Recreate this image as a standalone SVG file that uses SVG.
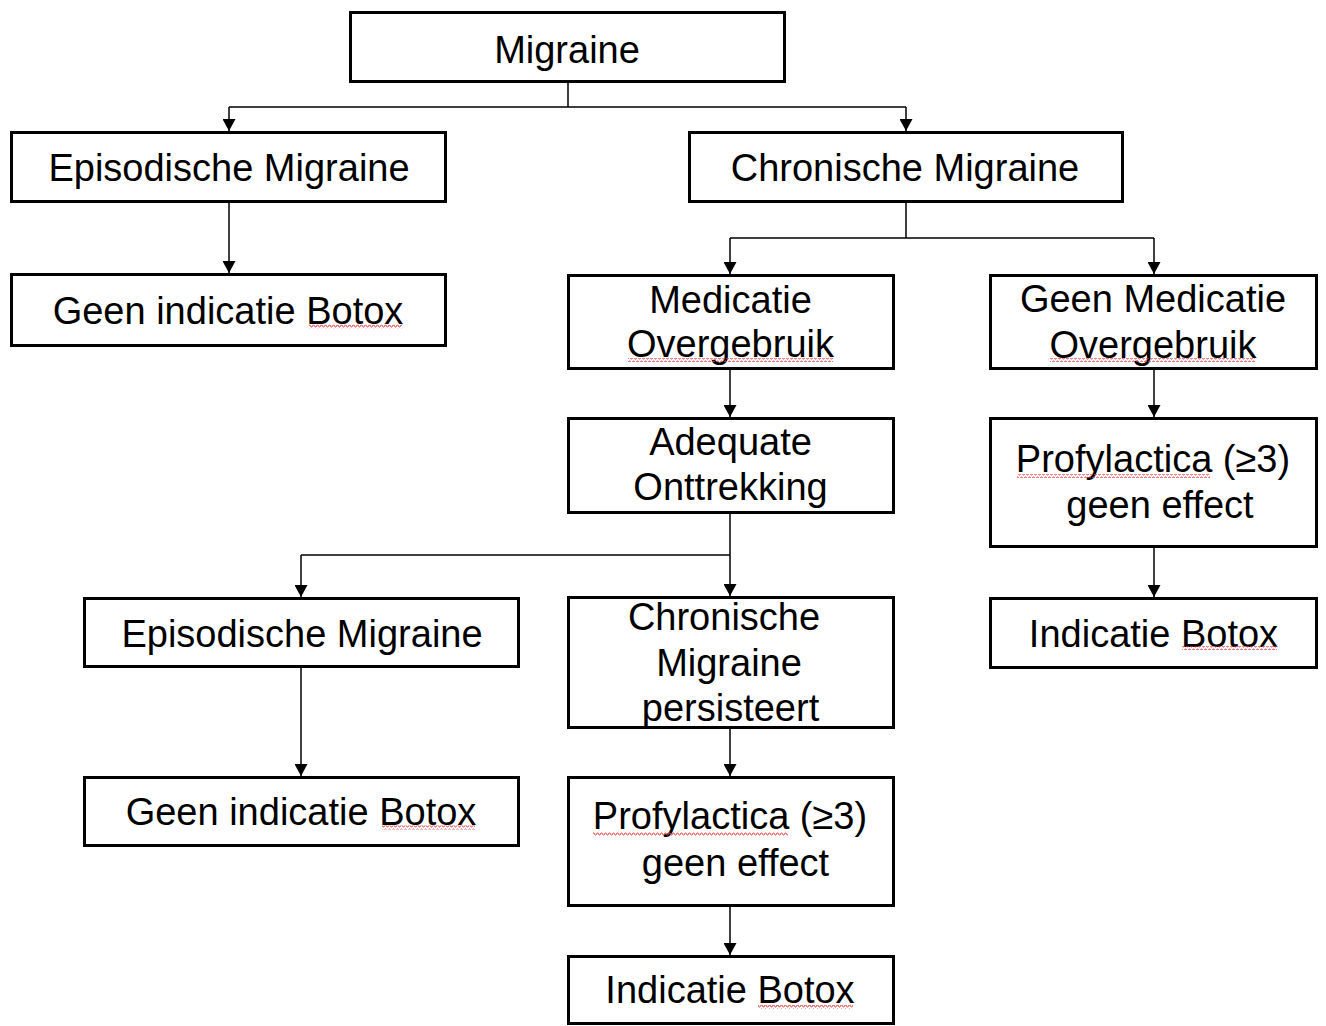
<svg xmlns="http://www.w3.org/2000/svg" width="1326" height="1026" viewBox="0 0 1326 1026">
<style>
.box{fill:#fff;stroke:#000;stroke-width:3}
.t{font-family:"Liberation Sans",Arial,sans-serif;font-size:38px;fill:#000;text-anchor:middle}
.c{fill:none;stroke:#000;stroke-width:1.5}
.a{marker-end:url(#arr)}
</style>
<defs>
<marker id="arr" markerUnits="userSpaceOnUse" markerWidth="12" markerHeight="13" refX="12" refY="6.5" orient="auto">
<path d="M0,0 L12,6.5 L0,13 z" fill="#000"/>
</marker>
<pattern id="wave" patternUnits="userSpaceOnUse" width="4" height="4">
<path d="M0,3 L1,1 L2,1 L3,3 L4,3" fill="none" stroke="#e04040" stroke-width="0.9"/>
</pattern>
</defs>
<rect width="1326" height="1026" fill="#fff"/>
<g id="connectors">
<path class="c" d="M568,83 V107 M229,107 H906"/>
<path class="c a" d="M229,107 V131"/>
<path class="c a" d="M906,107 V131"/>
<path class="c a" d="M229,203 V273"/>
<path class="c" d="M906,203 V238 M730,238 H1154"/>
<path class="c a" d="M730,238 V274"/>
<path class="c a" d="M1154,238 V274"/>
<path class="c a" d="M730,370 V417"/>
<path class="c a" d="M1154,370 V417"/>
<path class="c a" d="M730,514 V596"/>
<path class="c" d="M301,555 H730"/>
<path class="c a" d="M301,555 V597"/>
<path class="c a" d="M1154,548 V597"/>
<path class="c a" d="M730,729 V776"/>
<path class="c a" d="M730,907 V955"/>
<path class="c a" d="M301,668 V776"/>
</g>
<g id="n-migraine">
<rect class="box" x="350.5" y="12.5" width="434" height="69"/>
<text class="t" x="567" y="63">Migraine</text>
</g>
<g id="n-episodisch1">
<rect class="box" x="11.5" y="132.5" width="434" height="69"/>
<text class="t" x="229" y="181">Episodische Migraine</text>
</g>
<g id="n-chronisch1">
<rect class="box" x="689.5" y="132.5" width="433" height="69"/>
<text class="t" x="905" y="181">Chronische Migraine</text>
</g>
<g id="n-geenindicatie1">
<rect class="box" x="11.5" y="274.5" width="434" height="71"/>
<text class="t" x="228" y="324">Geen indicatie Botox</text>
<rect x="309" y="324.5" width="93" height="4" fill="url(#wave)"/>
</g>
<g id="n-medicatie">
<rect class="box" x="568.5" y="275.5" width="325" height="93"/>
<text class="t" x="730.5" y="313">Medicatie</text>
<text class="t" x="730.5" y="357">Overgebruik</text>
<rect x="628" y="358" width="205" height="4" fill="url(#wave)"/>
</g>
<g id="n-geenmedicatie">
<rect class="box" x="990.5" y="275.5" width="326" height="93"/>
<text class="t" x="1153" y="312">Geen Medicatie</text>
<text class="t" x="1153" y="358">Overgebruik</text>
<rect x="1050" y="358" width="205" height="4" fill="url(#wave)"/>
</g>
<g id="n-adequate">
<rect class="box" x="568.5" y="418.5" width="325" height="94"/>
<text class="t" x="730.5" y="455">Adequate</text>
<text class="t" x="730.5" y="500">Onttrekking</text>
</g>
<g id="n-profylactica1">
<rect class="box" x="990.5" y="418.5" width="326" height="128"/>
<text class="t" x="1153" y="472">Profylactica (≥3)</text>
<text class="t" x="1160" y="518">geen effect</text>
<rect x="1017" y="474" width="193" height="4" fill="url(#wave)"/>
</g>
<g id="n-indicatie1">
<rect class="box" x="990.5" y="598.5" width="326" height="69"/>
<text class="t" x="1153.5" y="647">Indicatie Botox</text>
<rect x="1182" y="646" width="95" height="4" fill="url(#wave)"/>
</g>
<g id="n-episodisch2">
<rect class="box" x="84.5" y="598.5" width="434" height="68"/>
<text class="t" x="302" y="647">Episodische Migraine</text>
</g>
<g id="n-persisteert">
<rect class="box" x="568.5" y="597.5" width="325" height="130"/>
<text class="t" x="724" y="630">Chronische</text>
<text class="t" x="729" y="676">Migraine</text>
<text class="t" x="730.5" y="721">persisteert</text>
</g>
<g id="n-geenindicatie2">
<rect class="box" x="84.5" y="777.5" width="434" height="68"/>
<text class="t" x="301" y="825">Geen indicatie Botox</text>
<rect x="382" y="825.5" width="93" height="4" fill="url(#wave)"/>
</g>
<g id="n-profylactica2">
<rect class="box" x="568.5" y="777.5" width="325" height="128"/>
<text class="t" x="730" y="829">Profylactica (≥3)</text>
<text class="t" x="735.5" y="876">geen effect</text>
<rect x="593" y="832" width="195" height="4" fill="url(#wave)"/>
</g>
<g id="n-indicatie2">
<rect class="box" x="568.5" y="956.5" width="325" height="67"/>
<text class="t" x="730" y="1003">Indicatie Botox</text>
<rect x="758" y="1005" width="95" height="4" fill="url(#wave)"/>
</g>
</svg>
